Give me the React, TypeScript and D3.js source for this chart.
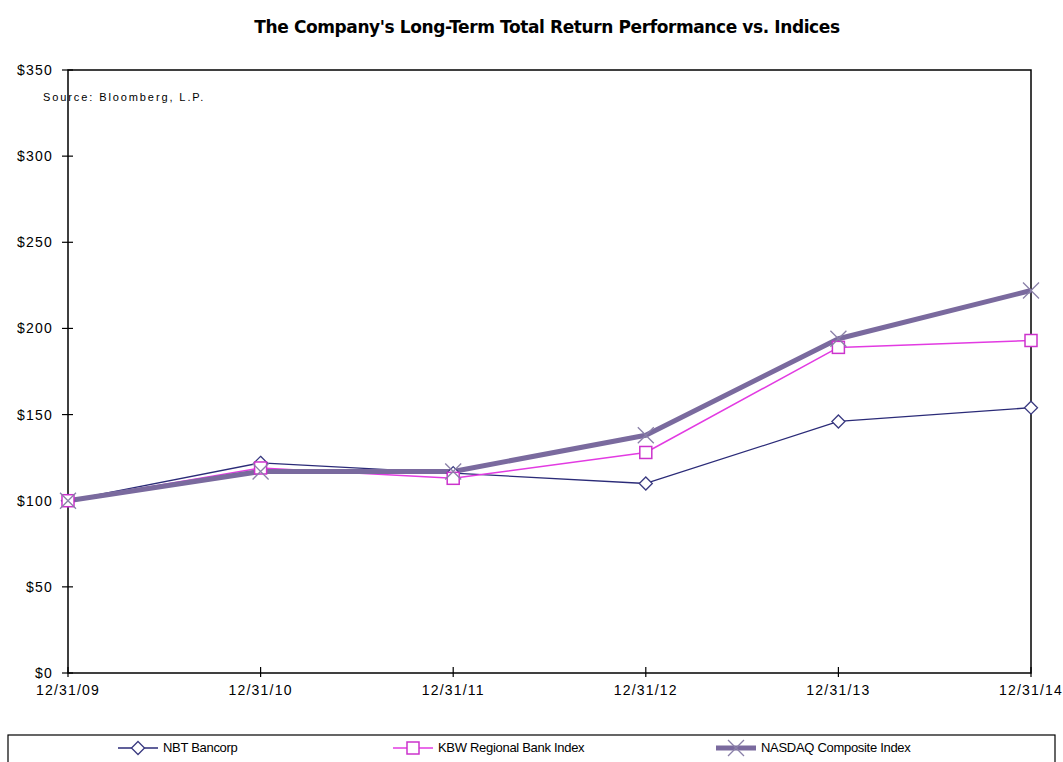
import React, { useEffect } from 'react';
import * as d3 from 'd3';

// period-end dates shown on the x axis
const DATES = ['12/31/09', '12/31/10', '12/31/11', '12/31/12', '12/31/13', '12/31/14'];

// cumulative total return, $100 invested at 12/31/09
const NBT = [100, 122, 116, 110, 146, 154];
const KBW = [100, 119, 113, 128, 189, 193];
const NASDAQ = [100, 117, 117, 138, 194, 222];

const Y_TICKS = [0, 50, 100, 150, 200, 250, 300, 350];

interface Series {
  name: string;
  values: number[];
  color: string;
  marker: 'diamond' | 'square' | 'cross';
  width: number;
  markerColor: string;
}

const SERIES: Series[] = [
  { name: 'NBT Bancorp', values: NBT, color: '#2b2b78', marker: 'diamond', width: 1.3, markerColor: '#3a3a80' },
  { name: 'KBW Regional Bank Index', values: KBW, color: '#e23be2', marker: 'square', width: 1.5, markerColor: '#cc33cc' },
  { name: 'NASDAQ Composite Index', values: NASDAQ, color: '#7a6a9e', marker: 'cross', width: 5, markerColor: '#8a80a8' },
];

const W = 1063;
const H = 762;
const plot = { left: 68, right: 1031, top: 70, bottom: 673 };
const FONT = '"Liberation Sans", Arial, sans-serif';

function Marker({ kind, x, y, color }: { kind: Series['marker']; x: number; y: number; color: string }) {
  if (kind === 'diamond') {
    const r = 6.5;
    return (
      <path
        d={`M${x},${y - r}L${x + r},${y}L${x},${y + r}L${x - r},${y}Z`}
        fill="#fff"
        stroke={color}
        strokeWidth={1.3}
      />
    );
  }
  if (kind === 'square') {
    const r = 6;
    return <rect x={x - r} y={y - r} width={r * 2} height={r * 2} fill="#fff" stroke={color} strokeWidth={1.5} />;
  }
  const r = 8;
  return (
    <path
      d={`M${x - r},${y - r}L${x + r},${y + r}M${x - r},${y + r}L${x + r},${y - r}`}
      stroke={color}
      strokeWidth={1.3}
      fill="none"
    />
  );
}

export default function App() {
  useEffect(() => {
    document.body.style.margin = '0';
  }, []);

  const x = d3.scalePoint<string>().domain(DATES).range([plot.left, plot.right]);
  const y = d3.scaleLinear().domain([0, 350]).range([plot.bottom, plot.top]);

  const line = d3
    .line<number>()
    .x((_, i) => x(DATES[i])!)
    .y(d => y(d));

  const legendItems = [
    { s: SERIES[0], x0: 118 },
    { s: SERIES[1], x0: 393 },
    { s: SERIES[2], x0: 716 },
  ];

  return (
    <svg width={W} height={H} style={{ display: 'block', background: '#fff', fontFamily: FONT }}>
      <text
        x={547}
        y={33}
        textAnchor="middle"
        fontSize={17}
        fontWeight="bold"
        letterSpacing={-0.4}
        fontFamily='"DejaVu Sans", sans-serif'
      >
        The Company's Long-Term Total Return Performance vs. Indices
      </text>

      {/* frame */}
      <rect
        x={plot.left}
        y={plot.top}
        width={plot.right - plot.left}
        height={plot.bottom - plot.top}
        fill="none"
        stroke="#000"
        strokeWidth={1.5}
      />

      <text x={43} y={101} fontSize={11} letterSpacing={1.9}>
        Source:  Bloomberg, L.P.
      </text>

      {/* y axis */}
      {Y_TICKS.map(t => (
        <g key={t}>
          <line x1={plot.left - 6} x2={plot.left + 5} y1={y(t)} y2={y(t)} stroke="#000" strokeWidth={1.2} />
          <text x={53} y={y(t) + 5} textAnchor="end" fontSize={14} letterSpacing={1.2}>
            {`$${t}`}
          </text>
        </g>
      ))}

      {/* x axis */}
      {DATES.map(d => (
        <g key={d}>
          <line x1={x(d)} x2={x(d)} y1={plot.bottom - 6} y2={plot.bottom + 4} stroke="#000" strokeWidth={1.2} />
          <text x={x(d)} y={695} textAnchor="middle" fontSize={14} letterSpacing={1.2}>
            {d}
          </text>
        </g>
      ))}

      {/* lines */}
      {SERIES.map(s => (
        <path key={s.name} d={line(s.values)!} fill="none" stroke={s.color} strokeWidth={s.width} strokeLinejoin="round" />
      ))}

      {/* markers */}
      {SERIES.map(s =>
        s.values.map((v, i) => (
          <Marker key={`${s.name}-${i}`} kind={s.marker} x={x(DATES[i])!} y={y(v)} color={s.markerColor} />
        ))
      )}

      {/* legend */}
      <rect x={8} y={735} width={1047} height={40} fill="#fff" stroke="#000" strokeWidth={1.2} />
      {legendItems.map(({ s, x0 }) => (
        <g key={s.name}>
          <line x1={x0} x2={x0 + 40} y1={748} y2={748} stroke={s.color} strokeWidth={s.width} />
          <Marker kind={s.marker} x={x0 + 20} y={748} color={s.markerColor} />
          <text x={x0 + 45} y={752} fontSize={13} letterSpacing={-0.3}>
            {s.name}
          </text>
        </g>
      ))}
    </svg>
  );
}
